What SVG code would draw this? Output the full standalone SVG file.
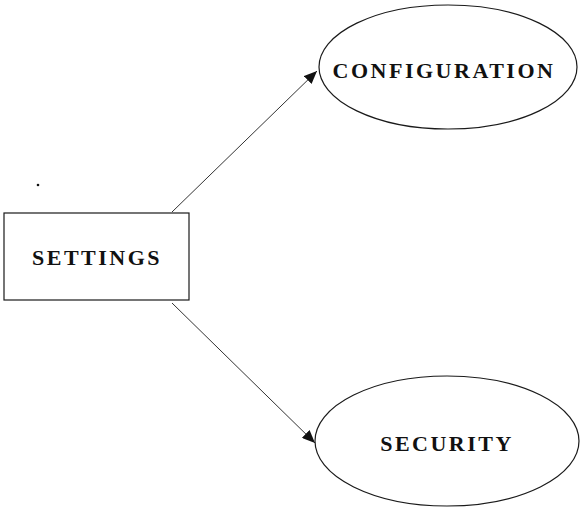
<svg xmlns="http://www.w3.org/2000/svg" width="581" height="509" viewBox="0 0 581 509">
  <style>
    .shape { fill: #ffffff; stroke: #1a1a1a; stroke-width: 1.2; }
    .label { font-family: "Liberation Serif", "Times New Roman", serif; font-weight: bold; font-size: 22px; letter-spacing: 2.5px; fill: #111111; text-anchor: middle; }
    .edge { stroke: #333333; stroke-width: 1; fill: none; marker-end: url(#arrow); }
  </style>
  <defs>
    <marker id="arrow" viewBox="0 0 13 11" refX="13" refY="5.5" markerWidth="13" markerHeight="11" markerUnits="userSpaceOnUse" orient="auto">
      <path d="M0,0 L13,5.5 L0,11 Z" fill="#111111"/>
    </marker>
  </defs>
  <rect width="581" height="509" fill="#ffffff"/>

  <g id="connectors">
    <line class="edge" x1="172" y1="212" x2="317" y2="71"/>
    <line class="edge" x1="172" y1="303" x2="315" y2="443"/>
  </g>

  <g id="settings">
    <rect class="shape" x="4" y="213" width="185" height="87"/>
    <text class="label" x="97" y="265">SETTINGS</text>
  </g>

  <g id="configuration">
    <ellipse class="shape" cx="448" cy="67" rx="129" ry="62"/>
    <text class="label" x="444" y="78">CONFIGURATION</text>
  </g>

  <g id="security">
    <ellipse class="shape" cx="447" cy="441" rx="132" ry="65"/>
    <text class="label" x="447" y="451">SECURITY</text>
  </g>

  <circle cx="38" cy="185" r="1.3" fill="#111111"/>
</svg>
